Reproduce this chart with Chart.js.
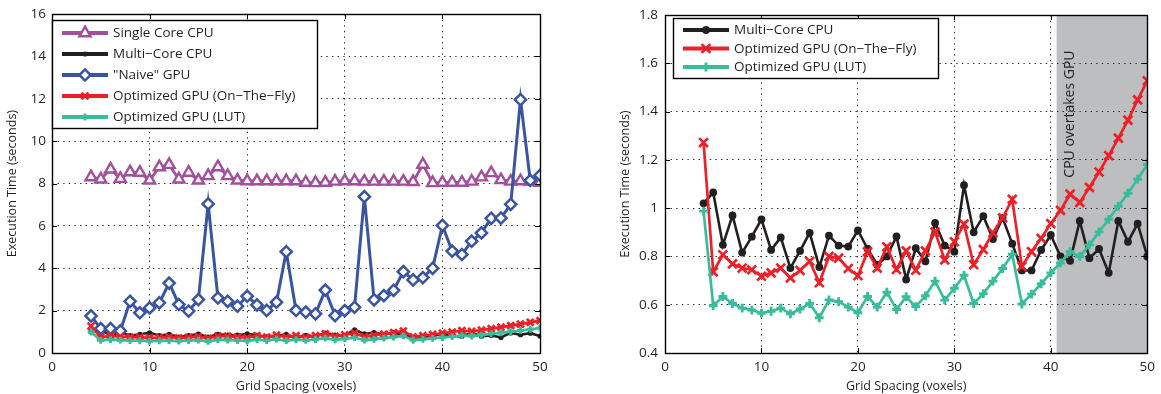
<!DOCTYPE html>
<html><head><meta charset="utf-8">
<script src="https://cdn.jsdelivr.net/npm/chart.js@4"></script>
<style>
html,body{margin:0;padding:0;background:#fff;}
#wrap{position:relative;width:1161px;height:394px;overflow:hidden;}
canvas{position:absolute;top:0;}
#c1{left:0;} #c2{left:580px;}
</style></head>
<body><div id="wrap"><canvas id="c1" width="580" height="394"></canvas><canvas id="c2" width="581" height="394"></canvas></div>
<script>
// ---------- data ----------
const gridSpacing = [4,5,6,7,8,9,10,11,12,13,14,15,16,17,18,19,20,21,22,23,24,25,26,27,28,29,30,31,32,33,34,35,36,37,38,39,40,41,42,43,44,45,46,47,48,49,50];
const singleCoreCPU = [8.31,8.20,8.67,8.23,8.54,8.52,8.15,8.78,8.89,8.20,8.52,8.15,8.36,8.78,8.36,8.15,8.12,8.12,8.12,8.12,8.12,8.12,8.05,8.03,8.05,8.10,8.12,8.12,8.10,8.10,8.10,8.10,8.10,8.08,8.90,8.03,8.05,8.05,8.05,8.10,8.30,8.50,8.17,8.10,8.12,8.10,8.05];
const multiCoreCPU = [1.02,1.065,0.848,0.97,0.816,0.882,0.954,0.827,0.879,0.752,0.823,0.898,0.756,0.886,0.845,0.841,0.908,0.832,0.766,0.80,0.883,0.705,0.834,0.780,0.939,0.845,0.820,1.095,0.900,0.967,0.872,0.96,0.853,0.742,0.742,0.827,0.889,0.80,0.782,0.947,0.793,0.831,0.732,0.947,0.861,0.936,0.80];
const naiveGPU = [1.75,1.15,1.15,1.04,2.44,1.90,2.13,2.37,3.30,2.29,1.98,2.52,7.04,2.60,2.44,2.21,2.68,2.27,2.01,2.40,4.78,2.01,1.93,1.85,2.97,1.77,2.00,2.16,7.38,2.51,2.71,2.96,3.84,3.45,3.56,4.00,6.02,4.81,4.65,5.28,5.67,6.36,6.37,7.02,11.96,8.15,8.39];
const optGPUOnTheFly = [1.272,0.736,0.807,0.769,0.752,0.745,0.718,0.732,0.752,0.711,0.742,0.780,0.691,0.800,0.793,0.750,0.720,0.820,0.752,0.840,0.746,0.823,0.743,0.823,0.902,0.786,0.861,0.934,0.766,0.829,0.898,0.960,1.037,0.759,0.820,0.875,0.936,0.991,1.058,1.024,1.086,1.150,1.218,1.290,1.365,1.449,1.528];
const optGPULUT = [0.988,0.596,0.634,0.605,0.586,0.578,0.565,0.573,0.586,0.562,0.582,0.605,0.546,0.620,0.613,0.590,0.567,0.634,0.590,0.652,0.580,0.633,0.592,0.637,0.698,0.619,0.668,0.722,0.605,0.646,0.698,0.750,0.809,0.603,0.644,0.687,0.732,0.773,0.820,0.800,0.848,0.902,0.954,1.008,1.062,1.120,1.181];
const xTickValues = [0,10,20,30,40,50];
const leftYTicks = [0,2,4,6,8,10,12,14,16];
const rightYTicks = [0.4,0.6,0.8,1.0,1.2,1.4,1.6,1.8];
const seriesLabels = ['Single Core CPU','Multi\u2212Core CPU','"Naive" GPU','Optimized GPU (On\u2212The\u2212Fly)','Optimized GPU (LUT)'];
const xTitle = 'Grid Spacing (voxels)';
const yTitle = 'Execution Time (seconds)';
const shadeFrom = 40.6;
const noteText = 'CPU overtakes GPU';
const noteAt = {x: 42.0, y: 1.39};

// ---------- style ----------
const FONT = '"Open Sans", "DejaVu Sans", sans-serif';
const TEXT = '#231f20';
const PURPLE = '#a24f9f', BLACK = '#231f20', BLUE = '#3a54a4', RED = '#ed2027', TEAL = '#38bd9c';

function pts(ys){ return gridSpacing.map((x,i)=>({x:x, y:ys[i]})); }
function ds(label, ys, st){
  return Object.assign({label:label, data:pts(ys), fill:false, tension:0, pointHoverRadius:0}, st);
}
function styles(small){
  return {
    single:{borderColor:PURPLE,borderWidth:2.8,pointStyle:'triangle',pointRadius:6.4,pointBorderWidth:2.4,pointBackgroundColor:'#fff',pointBorderColor:PURPLE,order:5},
    multi:{borderColor:BLACK,borderWidth:2.6,pointStyle:'circle',pointRadius:small?2.6:3.9,pointBorderWidth:0,pointBackgroundColor:BLACK,pointBorderColor:BLACK,order:4},
    naive:{borderColor:BLUE,borderWidth:3,pointStyle:'rectRot',pointRadius:5.6,pointBorderWidth:2.5,pointBackgroundColor:'#fff',pointBorderColor:BLUE,order:3},
    otf:{borderColor:RED,borderWidth:2.7,pointStyle:'crossRot',pointRadius:small?4.8:6.2,pointBorderWidth:2.7,pointBackgroundColor:RED,pointBorderColor:RED,order:2},
    lut:{borderColor:TEAL,borderWidth:2.7,pointStyle:'cross',pointRadius:small?3.4:4.4,pointBorderWidth:2.9,pointBackgroundColor:TEAL,pointBorderColor:TEAL,order:1}
  };
}

const decor = {
  id:'decor',
  beforeDraw(chart, args, o){
    if (o.shadeFrom == null) return;
    const ctx = chart.ctx, a = chart.chartArea, x0 = chart.scales.x.getPixelForValue(o.shadeFrom);
    ctx.save(); ctx.fillStyle = '#bcbec0'; ctx.fillRect(x0, a.top, a.right - x0, a.bottom - a.top); ctx.restore();
  },
  afterDraw(chart, args, o){
    const ctx = chart.ctx, a = chart.chartArea, sx = chart.scales.x, sy = chart.scales.y;
    ctx.save();
    // inner tick marks
    ctx.strokeStyle = '#000'; ctx.lineWidth = 1;
    ctx.beginPath();
    sx.ticks.forEach(t => { const p = Math.round(sx.getPixelForValue(t.value)) + 0.5;
      ctx.moveTo(p, a.bottom); ctx.lineTo(p, a.bottom - 5); ctx.moveTo(p, a.top); ctx.lineTo(p, a.top + 5); });
    sy.ticks.forEach(t => { const p = Math.round(sy.getPixelForValue(t.value)) + 0.5;
      ctx.moveTo(a.left, p); ctx.lineTo(a.left + 5, p); ctx.moveTo(a.right, p); ctx.lineTo(a.right - 5, p); });
    ctx.stroke();
    // frame
    ctx.lineWidth = 1.4;
    ctx.strokeRect(Math.round(a.left)+0.5, Math.round(a.top)+0.5, Math.round(a.right-a.left), Math.round(a.bottom-a.top));
    // annotation
    if (o.note) {
      ctx.save();
      ctx.translate(sx.getPixelForValue(o.note.x), sy.getPixelForValue(o.note.y));
      ctx.rotate(-Math.PI/2);
      ctx.fillStyle = TEXT; ctx.font = '14px ' + FONT; ctx.textAlign = 'center'; ctx.textBaseline = 'middle';
      ctx.fillText(o.note.text, 0, 0);
      ctx.restore();
    }
    // legend
    const L = o.legend;
    if (L) {
      ctx.fillStyle = '#fff'; ctx.fillRect(L.left, L.top, L.width, L.height);
      ctx.strokeStyle = '#000'; ctx.lineWidth = 1.4;
      ctx.strokeRect(L.left + 0.5, L.top + 0.5, L.width, L.height);
      chart.data.datasets.forEach((d, i) => {
        const y = L.top + L.rowStart + i * L.rowGap;
        ctx.strokeStyle = d.borderColor; ctx.lineWidth = 4; ctx.setLineDash([]);
        ctx.beginPath(); ctx.moveTo(L.lineFrom, y); ctx.lineTo(L.lineTo, y); ctx.stroke();
        ctx.fillStyle = d.pointBackgroundColor; ctx.strokeStyle = d.pointBorderColor; ctx.lineWidth = d.pointBorderWidth;
        const mx = (L.lineFrom + L.lineTo) / 2;
        if (Chart.helpers && Chart.helpers.drawPoint) {
          Chart.helpers.drawPoint(ctx, {pointStyle:d.pointStyle, radius:d.pointRadius, borderWidth:d.pointBorderWidth, rotation:0}, mx, y);
        }
        ctx.fillStyle = TEXT; ctx.font = '13.5px ' + FONT; ctx.textAlign = 'left'; ctx.textBaseline = 'middle';
        ctx.fillText(d.label, L.textX, y + 0.5);
      });
    }
    ctx.restore();
  }
};

function scaleCfg(yTicks, yWidth, tickPad, titlePad, fmt){
  const grid = {color:'#2a2a2a', lineWidth:1, drawTicks:false};
  const border = {display:false, dash:[1.4,4.2]};
  return {
    x:{type:'linear', min:0, max:50,
       afterBuildTicks:s=>{ s.ticks = xTickValues.map(v=>({value:v})); },
       afterFit:s=>{ s.height = 41; },
       ticks:{color:TEXT, font:{family:FONT, size:13.5}, padding:6, maxRotation:0, autoSkip:false},
       grid:grid, border:border,
       title:{display:true, text:xTitle, color:TEXT, font:{family:FONT, size:12.5}, padding:{top:0,bottom:0.5}}},
    y:{type:'linear', min:yTicks[0], max:yTicks[yTicks.length-1],
       afterBuildTicks:s=>{ s.ticks = yTicks.map(v=>({value:v})); },
       afterFit:s=>{ s.width = yWidth; },
       ticks:{color:TEXT, font:{family:FONT, size:13.5}, padding:tickPad, autoSkip:false, callback:fmt},
       grid:grid, border:border,
       title:{display:true, text:yTitle, color:TEXT, font:{family:FONT, size:12.5}, padding:{top:titlePad,bottom:0}}}
  };
}

const sL = styles(true), sR = styles(false);
new Chart(document.getElementById('c1'), {
  type:'line',
  data:{datasets:[
    ds(seriesLabels[0], singleCoreCPU, sL.single),
    ds(seriesLabels[1], multiCoreCPU, sL.multi),
    ds(seriesLabels[2], naiveGPU, sL.naive),
    ds(seriesLabels[3], optGPUOnTheFly, sL.otf),
    ds(seriesLabels[4], optGPULUT, sL.lut)
  ]},
  options:{responsive:false, devicePixelRatio:1, animation:false,
    layout:{padding:{left:0,right:40,top:11,bottom:0}},
    scales:scaleCfg(leftYTicks, 52, 6, 4.5, v=>String(v)),
    plugins:{legend:{display:false}, tooltip:{enabled:false},
      decor:{legend:{left:52,top:20,width:265,height:108,rowStart:13,rowGap:21,lineFrom:62,lineTo:108,textX:113}}}
  },
  plugins:[decor]
});
new Chart(document.getElementById('c2'), {
  type:'line',
  data:{datasets:[
    ds(seriesLabels[1], multiCoreCPU, sR.multi),
    ds(seriesLabels[3], optGPUOnTheFly, sR.otf),
    ds(seriesLabels[4], optGPULUT, sR.lut)
  ]},
  options:{responsive:false, devicePixelRatio:1, animation:false,
    layout:{padding:{left:0,right:9,top:11,bottom:0}},
    scales:scaleCfg(rightYTicks, 85, 7, 37.5, v=>String(+Number(v).toFixed(1))),
    plugins:{legend:{display:false}, tooltip:{enabled:false},
      decor:{shadeFrom:shadeFrom, note:{text:noteText, x:noteAt.x, y:noteAt.y},
        legend:{left:93,top:18,width:265,height:60,rowStart:12,rowGap:18.5,lineFrom:103,lineTo:149,textX:154}}}
  },
  plugins:[decor]
});
</script>
</body></html>
